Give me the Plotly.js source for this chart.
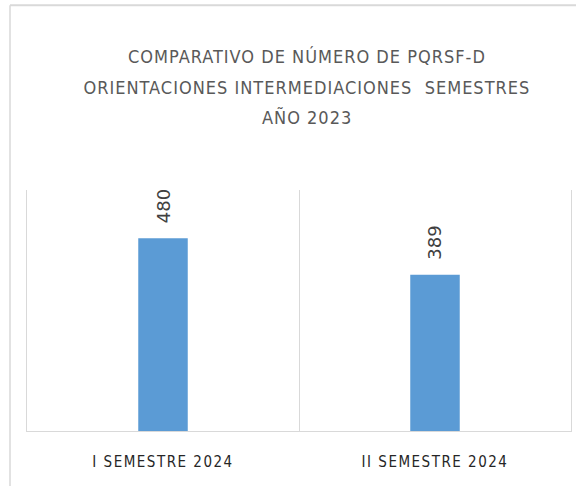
<!DOCTYPE html>
<html>
<head>
<meta charset="utf-8">
<script src="https://cdn.plot.ly/plotly-3.0.1.min.js"></script>
<style>
html,body{margin:0;padding:0;background:#fff;}
#chart{width:576px;height:486px;}
.annotation-text.ttl{letter-spacing:1.0px;}
.xtick text{letter-spacing:1.5px;}
</style>
</head>
<body>
<div id="chart"></div>
<script>
var categories = ["I SEMESTRE 2024", "II SEMESTRE 2024"];
var values = [480, 389];
var titleLines = ["COMPARATIVO DE NÚMERO DE PQRSF-D", "ORIENTACIONES INTERMEDIACIONES  SEMESTRES", "AÑO 2023"];

var titleFont = {family: "DejaVu Sans Condensed, sans-serif", size: 18, color: "#595959"};
var titleY = [57, 88, 118];

var annotations = titleLines.map(function(t, i){
  return {xref:"paper", yref:"paper", x:(307-27)/(571-27), y:(430 - titleY[i])/(430-190),
          text:t.replace(/  /g," &nbsp;"), showarrow:false, xanchor:"center", yanchor:"middle", font:titleFont};
});
values.forEach(function(v, i){
  annotations.push({x:categories[i], y:v, xref:"x", yref:"y", text:String(v), showarrow:false,
    textangle:-90, xanchor:"center", yanchor:"bottom", yshift:13,
    font:{family:"DejaVu Sans, sans-serif", size:18, color:"#404040"}});
});

var trace = {
  type:"bar", x:categories, y:values,
  marker:{color:"#5B9BD5"}, width:0.182, hoverinfo:"none"
};

var layout = {
  width:576, height:486,
  margin:{l:27, r:5, t:190, b:55},
  paper_bgcolor:"#ffffff", plot_bgcolor:"#ffffff",
  showlegend:false,
  xaxis:{type:"category", tickson:"boundaries", showgrid:true, gridcolor:"#d9d9d9", gridwidth:1,
         ticks:"", showline:true, linecolor:"#d9d9d9", linewidth:1, mirror:false, zeroline:false,
         ticklabelstandoff:17,
         tickfont:{family:"DejaVu Sans Condensed, sans-serif", size:15, color:"#262626"}},
  yaxis:{range:[0,600], showgrid:false, showticklabels:false, ticks:"", zeroline:false,
         showline:true, mirror:true, linecolor:"#d9d9d9", linewidth:1},
  annotations:annotations,
  shapes:[
    {type:"line", xref:"paper", yref:"paper", x0:(10-27)/544, x1:(576-27)/544, y0:(431-7)/240, y1:(431-7)/240, line:{color:"#d9d9d9", width:2}},
    {type:"line", xref:"paper", yref:"paper", x0:(10-27)/544, x1:(10-27)/544, y0:(431-7)/240, y1:(431-490)/240, line:{color:"#d9d9d9", width:1.5}}
  ]
};

Plotly.newPlot("chart", [trace], layout, {staticPlot:true, displayModeBar:false}).then(function(){
  var nodes = document.querySelectorAll(".annotation-text");
  for (var i = 0; i < titleLines.length && i < nodes.length; i++) nodes[i].classList.add("ttl");
});
</script>
</body>
</html>
